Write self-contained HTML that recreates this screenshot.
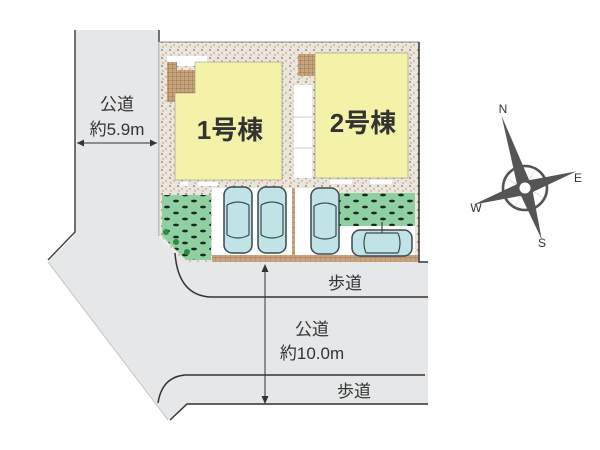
<!DOCTYPE html>
<html><head><meta charset="utf-8"><style>
html,body{margin:0;padding:0;background:#fff;}
svg{display:block;}
text{font-family:"Liberation Sans","Noto Sans CJK JP",sans-serif;fill:#333;}
</style></head><body>
<svg width="600" height="450" viewBox="0 0 600 450" xmlns="http://www.w3.org/2000/svg">
<defs>
<pattern id="grav" width="8" height="8" patternUnits="userSpaceOnUse">
<rect width="8" height="8" fill="#ebe5dc"/>
<circle cx="2" cy="2" r="1.1" fill="#a89a88"/><circle cx="6" cy="5" r="0.9" fill="#b8ab98"/><circle cx="3" cy="7" r="0.7" fill="#9a8c7a"/>
</pattern>
<pattern id="tile" width="4" height="4" patternUnits="userSpaceOnUse">
<rect width="4" height="4" fill="#c9a57e"/><path d="M0 0H4M0 0V4" stroke="#8e6a48" stroke-width="0.8"/>
</pattern>
<pattern id="brick" width="5" height="5" patternUnits="userSpaceOnUse">
<rect width="5" height="5" fill="#c7a47f"/><path d="M0 0V5M0 2.5H5" stroke="#9b7756" stroke-width="0.6"/>
</pattern>
<pattern id="green" width="18" height="12" patternUnits="userSpaceOnUse">
<rect width="18" height="12" fill="#8fd0a2"/>
<ellipse cx="5" cy="3" rx="3" ry="1.4" fill="#1e2a22"/><ellipse cx="14" cy="9" rx="3" ry="1.4" fill="#1e2a22"/>
</pattern>
<g id="car">
<rect x="0" y="0" width="28" height="66" rx="8" fill="#bfe3e6" stroke="#3c4a4c" stroke-width="1.5"/>
<path d="M3 18 Q14 12 25 18 M3 48 Q14 54 25 48 M3 18 V48 M25 18 V48" fill="none" stroke="#3c4a4c" stroke-width="1.2"/>
</g>
</defs>
<!-- roads -->
<polygon points="75,30 159,30 159,236 184,262 428,262 428,405 185,405 168,420 48,262 73,237 75,232" fill="#e6e7e8"/>
<path d="M75 30 V232 L48 260" fill="none" stroke="#444" stroke-width="1.5"/>
<path d="M48 262 L168 420" fill="none" stroke="#bbb" stroke-width="0.8"/>
<path d="M159 30 V42" stroke="#444" stroke-width="1.5"/>
<!-- sidewalks -->
<path d="M175 253 Q178 295 210 297 H428" fill="none" stroke="#333" stroke-width="1.5"/>
<path d="M158 403 Q162 377 185 375 H425" fill="none" stroke="#333" stroke-width="1.5"/>
<path d="M170 420 L187 404 H428" fill="none" stroke="#333" stroke-width="1.5"/>
<!-- lot -->
<polygon points="160,42 419,42 419,262 184,262 160,236" fill="url(#grav)"/>
<rect x="167" y="56" width="40" height="10" fill="#fff"/>
<!-- house 1 -->
<rect x="167" y="62" width="10" height="40" fill="url(#tile)"/>
<rect x="175" y="70" width="20" height="23" fill="url(#tile)"/>
<polygon points="195,62 282,62 282,180 175,180 175,93 195,93" fill="#f4f1a8" stroke="#888" stroke-width="0.5"/>
<text x="230" y="139" font-size="26" font-weight="bold" text-anchor="middle" fill="#222">1号棟</text>
<rect x="180" y="182" width="8" height="4" fill="#fff"/><rect x="198" y="182" width="20" height="4" fill="#fff"/>
<!-- path -->
<rect x="294" y="85" width="18" height="93" fill="#fff"/>
<path d="M294 117H312M294 148H312" stroke="#ccc" stroke-width="1"/>
<!-- house 2 -->
<rect x="298" y="54" width="24" height="22" fill="url(#tile)"/>
<rect x="315" y="53" width="93" height="125" fill="#f4f1a8" stroke="#888" stroke-width="0.5"/>
<text x="363" y="132" font-size="26" font-weight="bold" text-anchor="middle" fill="#222">2号棟</text>
<rect x="330" y="180" width="22" height="4" fill="#fff"/><rect x="370" y="180" width="22" height="4" fill="#fff"/>
<!-- left green -->
<polygon points="162,195 211,195 211,260 186,260 162,236" fill="url(#green)"/>
<circle cx="166" cy="232" r="3" fill="#2e8a3c"/><circle cx="176" cy="242" r="3" fill="#2e8a3c"/><circle cx="187" cy="252" r="3" fill="#2e8a3c"/>
<!-- parking -->
<rect x="212" y="188" width="80" height="68" fill="#fff"/>
<rect x="295" y="188" width="44" height="68" fill="#fff"/>
<rect x="339" y="226" width="76" height="30" fill="#fff"/>
<rect x="339" y="193" width="76" height="33" fill="url(#green)"/>
<rect x="212" y="255" width="206" height="7" fill="url(#brick)"/>
<rect x="292" y="188" width="3" height="74" fill="url(#brick)"/>
<use href="#car" x="224" y="187"/>
<use href="#car" x="258" y="187"/>
<use href="#car" x="311" y="188"/>
<g>
<rect x="352" y="230" width="60" height="26" rx="8" fill="#bfe3e6" stroke="#3c4a4c" stroke-width="1.5"/>
<path d="M366 233 Q362 243 366 253 M398 233 Q402 243 398 253 M366 233 H398 M366 253 H398 M382 222 V233" fill="none" stroke="#3c4a4c" stroke-width="1.2"/>
</g>
<!-- lot right border -->
<path d="M419 42 V262 H428" fill="none" stroke="#333" stroke-width="1.5"/>
<path d="M160 42 H419" stroke="#666" stroke-width="0.8"/>
<path d="M159 42 V236" stroke="#888" stroke-width="0.8"/>
<!-- left road label -->
<text x="117" y="110" font-size="17" text-anchor="middle">公道</text>
<text x="117" y="135" font-size="17" text-anchor="middle">約5.9m</text>
<path d="M77 143 H157" stroke="#333" stroke-width="1"/>
<path d="M77 143 l7 -3.5 v7z M157 143 l-7 -3.5 v7z" fill="#333"/>
<!-- bottom road labels -->
<path d="M265 265 V402" stroke="#333" stroke-width="1"/>
<path d="M265 264 l-3.5 8 h7z M265 404 l-3.5 -8 h7z" fill="#333"/>
<text x="345" y="289" font-size="17" text-anchor="middle">歩道</text>
<text x="312" y="335" font-size="17" text-anchor="middle">公道</text>
<text x="312" y="359" font-size="17" text-anchor="middle">約10.0m</text>
<text x="354" y="397" font-size="17" text-anchor="middle">歩道</text>
<!-- compass -->
<g transform="translate(525,188)">
<circle r="22" fill="none" stroke="#555" stroke-width="2.6"/>
<g transform="rotate(-18)" fill="#555">
<polygon points="0,-76 7,0 -7,0"/><polygon points="0,54 7,0 -7,0"/>
<polygon points="54,0 0,7 0,-7"/><polygon points="-54,0 0,7 0,-7"/>
<polygon points="19,-19 5,-4 -4,5"/><polygon points="-19,-19 -5,-4 4,5"/>
<polygon points="19,19 5,4 -4,-5"/><polygon points="-19,19 -5,4 4,-5"/>
</g>
<circle r="5.5" fill="#fff"/>
</g>
<text x="503" y="113" font-size="12" fill="#555" text-anchor="middle">N</text>
<text x="578" y="182" font-size="12" fill="#555" text-anchor="middle">E</text>
<text x="476" y="212" font-size="12" fill="#555" text-anchor="middle">W</text>
<text x="542" y="247" font-size="12" fill="#555" text-anchor="middle">S</text>
</svg>
</body></html>
